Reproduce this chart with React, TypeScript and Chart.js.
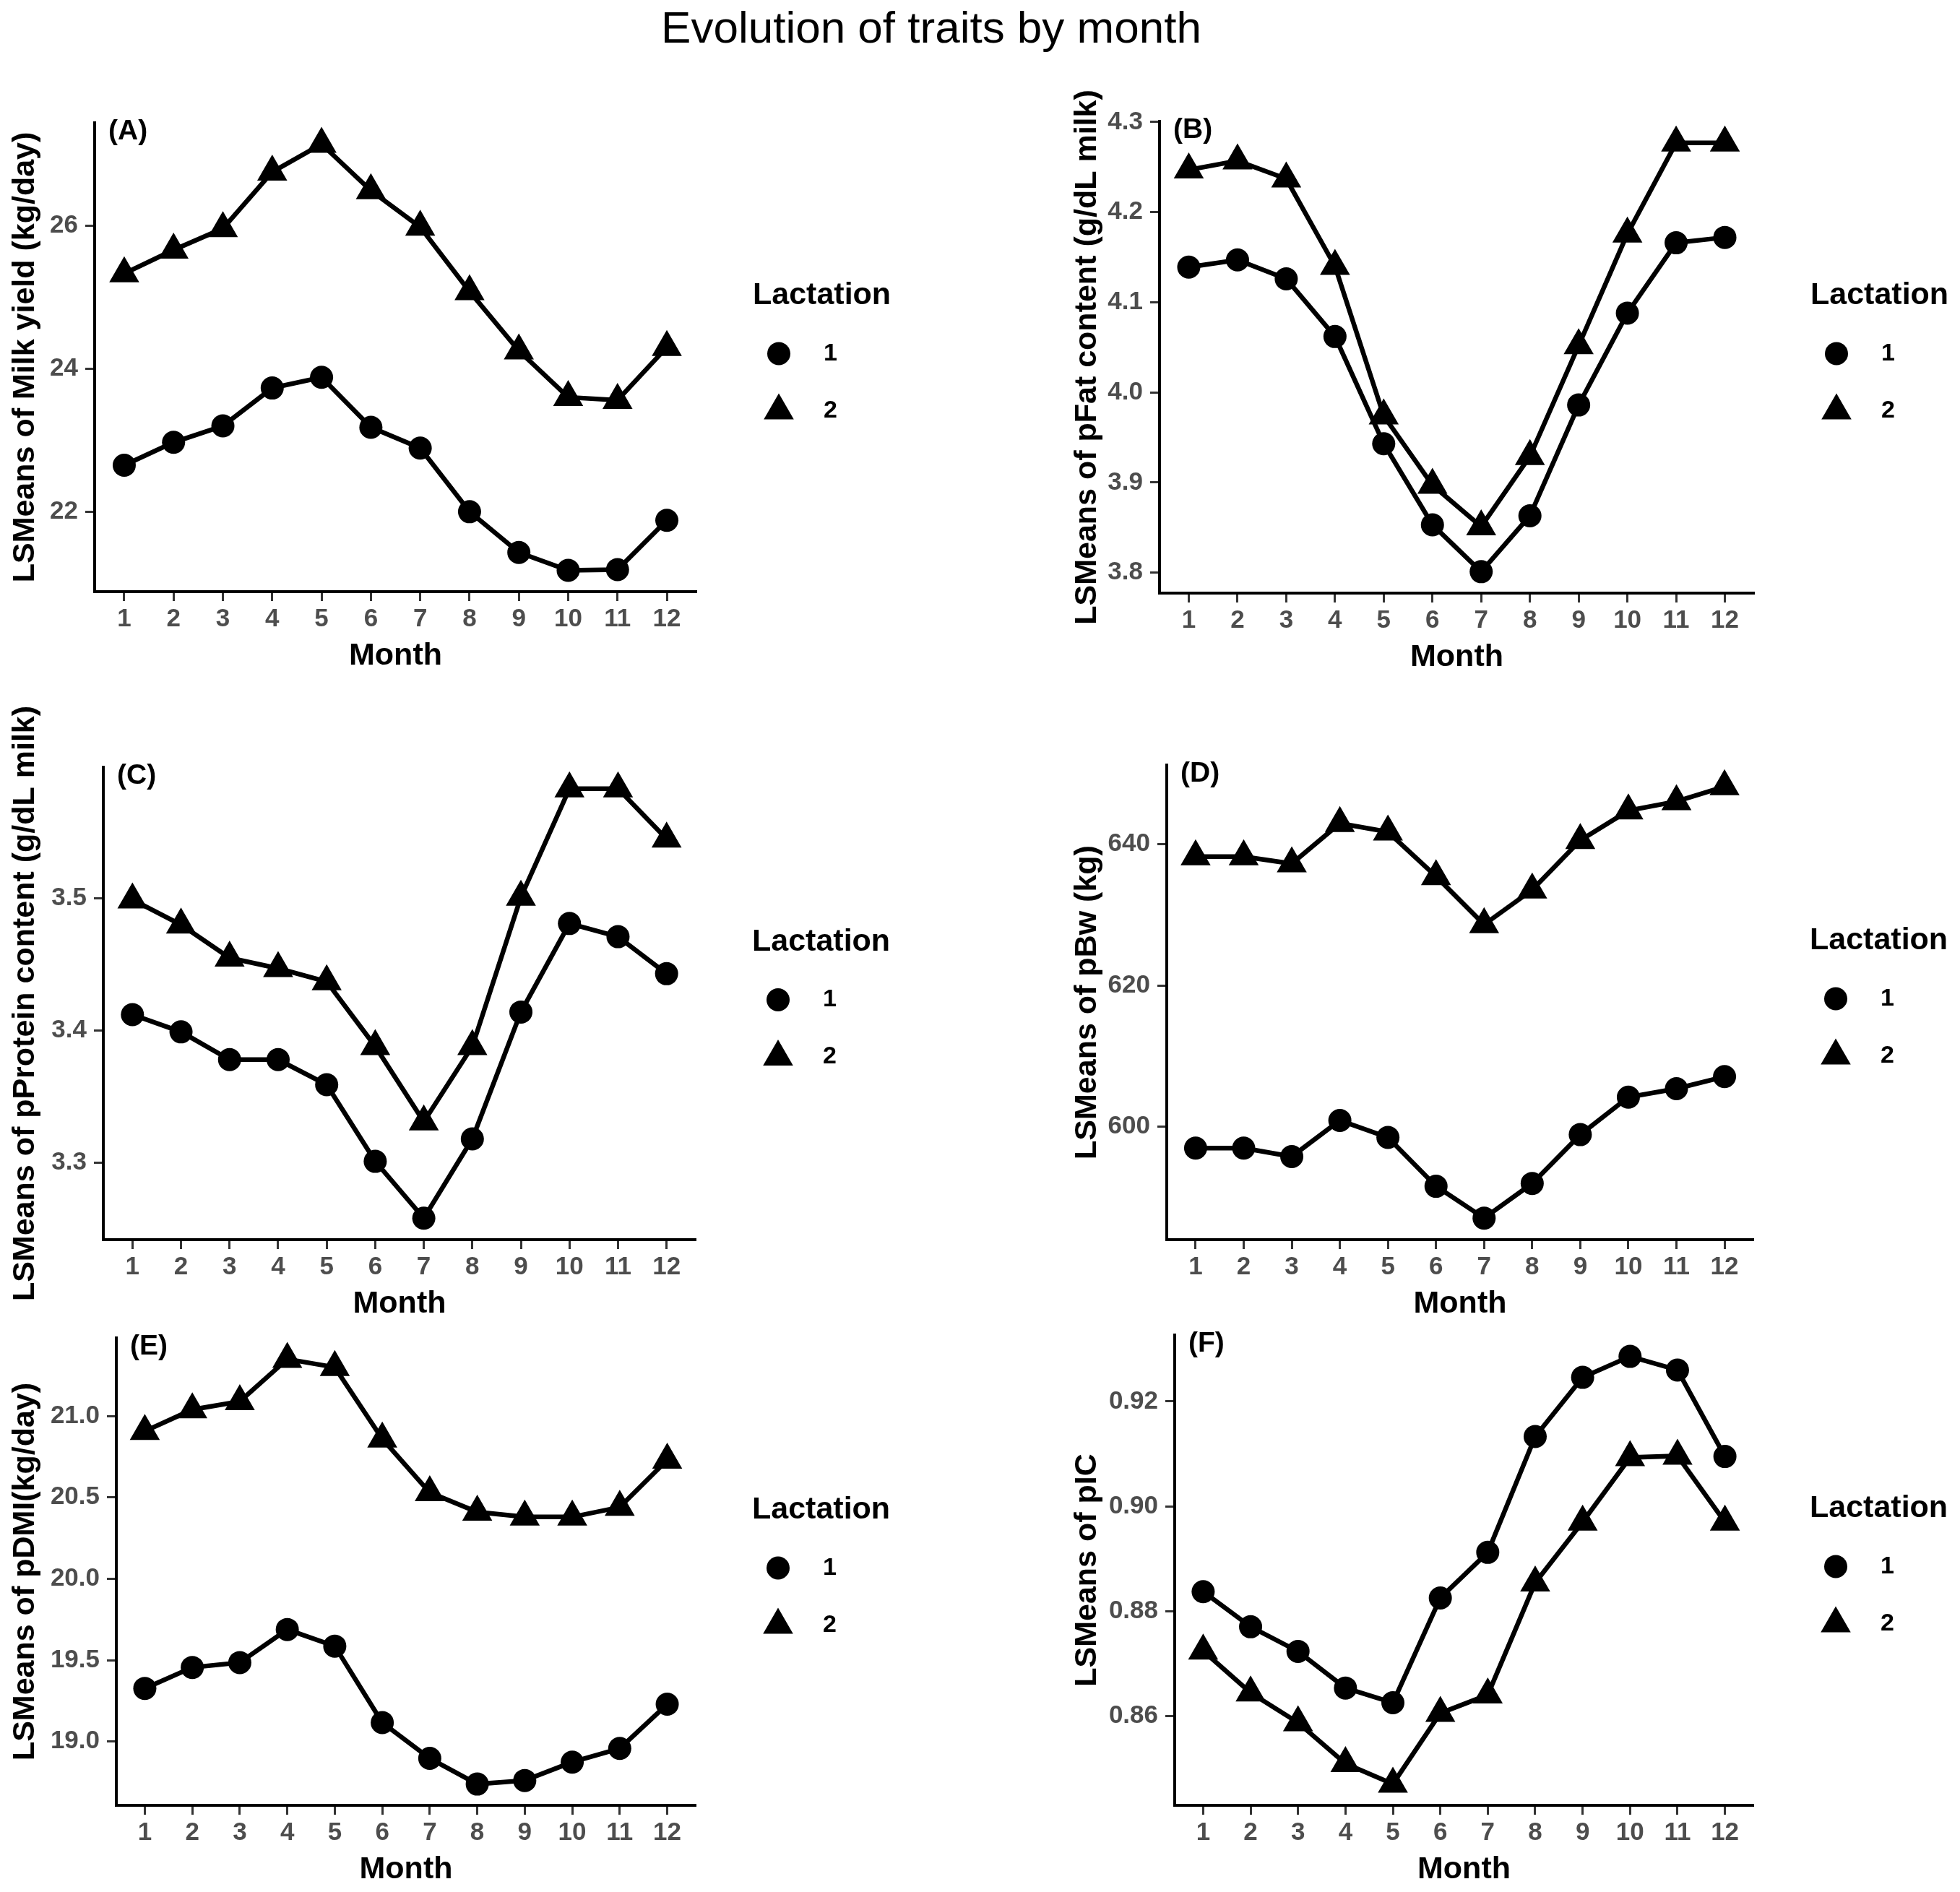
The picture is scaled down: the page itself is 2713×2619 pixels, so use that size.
import React, { useEffect, useRef } from 'react';
import { Chart, registerables } from 'chart.js';
import { drawPoint } from 'chart.js/helpers';

Chart.register(...registerables);

// ---------------- data ----------------
const months = [1, 2, 3, 4, 5, 6, 7, 8, 9, 10, 11, 12];
const lactationLabels = ['1', '2'];

const milkL1 = [22.65, 22.97, 23.2, 23.73, 23.88, 23.18, 22.89, 22.0, 21.43, 21.18, 21.19, 21.88];
const milkL2 = [25.33, 25.66, 25.96, 26.75, 27.14, 26.49, 25.98, 25.08, 24.25, 23.6, 23.56, 24.3];
const milkTicks = [22, 24, 26];

const fatL1 = [4.139, 4.147, 4.126, 4.062, 3.943, 3.853, 3.801, 3.863, 3.986, 4.088, 4.166, 4.172];
const fatL2 = [4.247, 4.257, 4.237, 4.14, 3.974, 3.897, 3.851, 3.929, 4.052, 4.176, 4.277, 4.277];
const fatTicks = [3.8, 3.9, 4.0, 4.1, 4.2, 4.3];

const proteinL1 = [3.412, 3.399, 3.378, 3.378, 3.359, 3.301, 3.258, 3.318, 3.414, 3.481, 3.471, 3.443];
const proteinL2 = [3.499, 3.48, 3.455, 3.447, 3.437, 3.388, 3.331, 3.388, 3.501, 3.583, 3.583, 3.545];
const proteinTicks = [3.3, 3.4, 3.5];

const bwL1 = [597.0, 597.0, 595.8, 600.9, 598.5, 591.6, 587.1, 592.0, 598.9, 604.2, 605.4, 607.1];
const bwL2 = [638.2, 638.2, 637.2, 642.9, 641.7, 635.4, 628.6, 633.5, 640.5, 644.7, 646.0, 648.1];
const bwTicks = [600, 620, 640];

const dmiL1 = [19.326, 19.455, 19.485, 19.688, 19.586, 19.116, 18.896, 18.738, 18.76, 18.873, 18.957, 19.229];
const dmiL2 = [20.907, 21.04, 21.09, 21.35, 21.3, 20.86, 20.53, 20.41, 20.38, 20.38, 20.44, 20.73];
const dmiTicks = [19.0, 19.5, 20.0, 20.5, 21.0];

const icL1 = [0.8837, 0.877, 0.8723, 0.8653, 0.8625, 0.8825, 0.8912, 0.9133, 0.9246, 0.9286, 0.926, 0.9095];
const icL2 = [0.8724, 0.8644, 0.8587, 0.8509, 0.847, 0.8605, 0.864, 0.8854, 0.897, 0.9093, 0.9096, 0.897];
const icTicks = [0.86, 0.88, 0.9, 0.92];

// ---------------- layout / style ----------------
const FONT = "'Liberation Sans', Arial, Helvetica, sans-serif";
const XH = 115;

type Box = { x: number; y: number; w: number; h: number };
type Pad = { left: number; right: number; top: number; bottom: number };
type PanelCfg = {
  tag: string;
  yTitle: string;
  l1: number[];
  l2: number[];
  yTicks: number[];
  dec: number;
  box: Box;
  pad: Pad;
  yw: number;
};

const panels: PanelCfg[] = [
  {
    tag: '(A)', yTitle: 'LSMeans of Milk yield (kg/day)', l1: milkL1, l2: milkL2, yTicks: milkTicks, dec: 0,
    box: { x: 0, y: 80, w: 1350, h: 880 }, pad: { left: 9, right: 386, top: 90, bottom: 26 }, yw: 122,
  },
  {
    tag: '(B)', yTitle: 'LSMeans of pFat content (g/dL milk)', l1: fatL1, l2: fatL2, yTicks: fatTicks, dec: 1,
    box: { x: 1380, y: 80, w: 1333, h: 880 }, pad: { left: 99, right: 285, top: 88, bottom: 24 }, yw: 126,
  },
  {
    tag: '(C)', yTitle: 'LSMeans of pProtein content (g/dL milk)', l1: proteinL1, l2: proteinL2, yTicks: proteinTicks, dec: 1,
    box: { x: 0, y: 960, w: 1350, h: 880 }, pad: { left: 9, right: 387, top: 102, bottom: 9 }, yw: 134,
  },
  {
    tag: '(D)', yTitle: 'LSMeans of pBw (kg)', l1: bwL1, l2: bwL2, yTicks: bwTicks, dec: 0,
    box: { x: 1380, y: 960, w: 1333, h: 880 }, pad: { left: 99, right: 286, top: 99, bottom: 9 }, yw: 136,
  },
  {
    tag: '(E)', yTitle: 'LSMeans of pDMI(kg/day)', l1: dmiL1, l2: dmiL2, yTicks: dmiTicks, dec: 1,
    box: { x: 0, y: 1780, w: 1350, h: 839 }, pad: { left: 9, right: 387, top: 72, bottom: 5 }, yw: 152,
  },
  {
    tag: '(F)', yTitle: 'LSMeans of pIC', l1: icL1, l2: icL2, yTicks: icTicks, dec: 2,
    box: { x: 1380, y: 1780, w: 1333, h: 839 }, pad: { left: 99, right: 286, top: 68, bottom: 5 }, yw: 147,
  },
];

function makeExtras(tag: string) {
  return {
    id: 'ggExtras',
    afterDraw(chart: any) {
      const { ctx, chartArea: ca } = chart;
      ctx.save();
      ctx.fillStyle = '#000';
      ctx.strokeStyle = '#000';
      ctx.textBaseline = 'middle';
      ctx.textAlign = 'left';
      ctx.font = `bold 39px ${FONT}`;
      ctx.fillText(tag, ca.left + 19, ca.top + 12);
      const mid = (ca.top + ca.bottom) / 2;
      ctx.font = `bold 43px ${FONT}`;
      ctx.fillText('Lactation', ca.right + 78, mid - 85);
      chart.data.datasets.forEach((ds: any, i: number) => {
        const y = mid - 5 + i * 79;
        ctx.fillStyle = '#000';
        drawPoint(ctx, { pointStyle: ds.pointStyle, radius: ds.pointRadius, rotation: 0, borderWidth: 0 } as any, ca.right + 114, y);
        ctx.font = `bold 34px ${FONT}`;
        ctx.fillText(ds.label, ca.right + 176, y);
      });
      ctx.restore();
    },
  };
}

function Panel({ cfg }: { cfg: PanelCfg }) {
  const ref = useRef<HTMLCanvasElement>(null);
  useEffect(() => {
    const canvas = ref.current;
    if (!canvas) return;
    const all = [...cfg.l1, ...cfg.l2];
    const mn = Math.min(...all);
    const mx = Math.max(...all);
    const span = mx - mn;
    const mk = (vals: number[]) => months.map((m, i) => ({ x: m, y: vals[i] }));
    const tickFont = { family: FONT, size: 35, weight: 'bold' as const };
    const titleFont = { family: FONT, size: 43, weight: 'bold' as const };
    const chart = new Chart(canvas, {
      type: 'line',
      data: {
        datasets: [
          {
            label: lactationLabels[0],
            data: mk(cfg.l1),
            borderColor: '#000',
            backgroundColor: '#000',
            borderWidth: 6.5,
            pointStyle: 'circle',
            pointRadius: 16,
            pointBorderWidth: 0,
            pointBackgroundColor: '#000',
            tension: 0,
            clip: false as any,
          },
          {
            label: lactationLabels[1],
            data: mk(cfg.l2),
            borderColor: '#000',
            backgroundColor: '#000',
            borderWidth: 6.5,
            pointStyle: 'triangle',
            pointRadius: 24,
            pointBorderWidth: 0,
            pointBackgroundColor: '#000',
            tension: 0,
            clip: false as any,
          },
        ],
      },
      options: {
        animation: false,
        responsive: false,
        layout: { padding: cfg.pad },
        plugins: {
          legend: { display: false },
          tooltip: { enabled: false },
          title: { display: false },
        },
        scales: {
          x: {
            type: 'linear',
            min: 0.4,
            max: 12.6,
            afterBuildTicks: (s: any) => {
              s.ticks = months.map((v) => ({ value: v }));
            },
            afterFit: (s: any) => {
              s.height = XH;
            },
            grid: { display: true, drawOnChartArea: false, drawTicks: true, tickLength: 13, tickWidth: 3, tickColor: '#333333' },
            border: { display: true, color: '#000', width: 4 },
            ticks: { font: tickFont, color: '#4D4D4D', padding: 4, maxRotation: 0, autoSkip: false, callback: (v: any) => String(v) },
            title: { display: true, text: 'Month', font: titleFont, color: '#000', padding: 0 },
          },
          y: {
            type: 'linear',
            min: mn - 0.05 * span,
            max: mx + 0.05 * span,
            afterBuildTicks: (s: any) => {
              s.ticks = cfg.yTicks.map((v) => ({ value: v }));
            },
            afterFit: (s: any) => {
              s.width = cfg.yw;
            },
            grid: { display: true, drawOnChartArea: false, drawTicks: true, tickLength: 13, tickWidth: 3, tickColor: '#333333' },
            border: { display: true, color: '#000', width: 4 },
            ticks: { font: tickFont, color: '#4D4D4D', padding: 10, callback: (v: any) => Number(v).toFixed(cfg.dec) },
            title: { display: true, text: cfg.yTitle, font: titleFont, color: '#000', padding: 0 },
          },
        },
      },
      plugins: [makeExtras(cfg.tag)],
    } as any);
    return () => chart.destroy();
  }, [cfg]);
  return (
    <canvas
      ref={ref}
      width={cfg.box.w}
      height={cfg.box.h}
      style={{ position: 'absolute', left: cfg.box.x, top: cfg.box.y, width: cfg.box.w, height: cfg.box.h }}
    />
  );
}

export default function App() {
  return (
    <div style={{ position: 'absolute', left: 0, top: 0, width: 2713, height: 2619, background: '#fff', overflow: 'hidden' }}>
      <div
        style={{
          position: 'absolute',
          left: 0,
          top: 7,
          width: 2578,
          textAlign: 'center',
          fontFamily: FONT,
          fontSize: 62,
          lineHeight: '62px',
          color: '#000',
          whiteSpace: 'nowrap',
        }}
      >
        Evolution of traits by month
      </div>
      {panels.map((p) => (
        <Panel key={p.tag} cfg={p} />
      ))}
    </div>
  );
}
